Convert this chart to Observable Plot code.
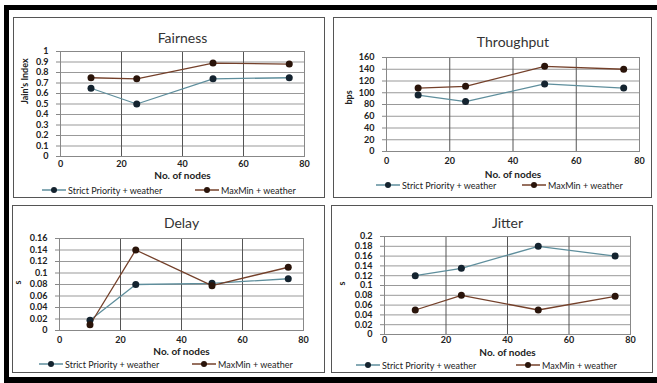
<!DOCTYPE html>
<html><head><meta charset="utf-8">
<script src="https://cdn.jsdelivr.net/npm/d3@7"></script>
<script src="https://cdn.jsdelivr.net/npm/@observablehq/plot@0.6"></script>
<style>
html,body{margin:0;padding:0;background:#fff;}
body{width:657px;height:383px;position:relative;overflow:hidden;font-family:Lato,"Liberation Sans",sans-serif;}
.frame{position:absolute;left:4px;top:5px;width:700px;height:378px;box-sizing:border-box;border-top:5px solid #000;border-left:5px solid #000;border-bottom:6px solid #000;}
.panel{position:absolute;box-sizing:border-box;border:1px solid #555;background:#fff;}
.plot{position:absolute;}
.legend{position:absolute;height:10px;font-size:9px;color:#222;white-space:nowrap;}
.legend .item{position:absolute;top:0;display:flex;align-items:center;height:10px;}
.legend svg{margin-right:2px;}
</style></head>
<body>
<div class="frame"></div>
<script>
const nodes = [10, 25, 50, 75];
const seriesNames = ["Strict Priority + weather", "MaxMin + weather"];
const xTicks = [0, 20, 40, 60, 80];

const fairnessStrict = [0.65, 0.50, 0.74, 0.75];
const fairnessMaxMin = [0.75, 0.74, 0.89, 0.88];
const fairnessTicks = [0, 0.1, 0.2, 0.3, 0.4, 0.5, 0.6, 0.7, 0.8, 0.9, 1];

const throughputStrict = [96, 85, 115, 108];
const throughputMaxMin = [108, 111, 145, 140];
const throughputTicks = [0, 20, 40, 60, 80, 100, 120, 140, 160];

const delayStrict = [0.018, 0.08, 0.082, 0.09];
const delayMaxMin = [0.01, 0.14, 0.078, 0.11];
const delayTicks = [0, 0.02, 0.04, 0.06, 0.08, 0.1, 0.12, 0.14, 0.16];

const jitterStrict = [0.12, 0.135, 0.18, 0.16];
const jitterMaxMin = [0.05, 0.08, 0.05, 0.078];
const jitterTicks = [0, 0.02, 0.04, 0.06, 0.08, 0.1, 0.12, 0.14, 0.16, 0.18, 0.2];

const lineColors = ["#5e8e9c", "#74402a"];
const markerColors = ["#14232f", "#2a140a"];

const fmt = d => String(+d.toFixed(3));

function panel(cfg) {
  const box = document.createElement("div");
  box.className = "panel";
  Object.assign(box.style, {left: cfg.box[0] + "px", top: cfg.box[1] + "px", width: cfg.box[2] + "px", height: cfg.box[3] + "px"});
  document.body.appendChild(box);

  const rows = (vals, s) => nodes.map((n, i) => ({x: n, y: vals[i], series: seriesNames[s]}));
  const a = rows(cfg.strict, 0), b = rows(cfg.maxmin, 1);
  const yMax = cfg.yTicks[cfg.yTicks.length - 1];
  const [mt, mr, mb, ml] = cfg.margins;

  const chart = Plot.plot({
    width: cfg.box[2], height: cfg.h,
    marginTop: mt, marginRight: mr, marginBottom: mb, marginLeft: ml,
    style: {fontFamily: "Lato, 'Liberation Sans', sans-serif", fontSize: "9px", fontWeight: "bold", color: "#222", background: "transparent", overflow: "visible"},
    x: {domain: [0, 80]},
    y: {domain: [0, yMax]},
    color: {domain: seriesNames, range: lineColors},
    marks: [
      Plot.gridY(cfg.yTicks, {stroke: "#999", strokeOpacity: 1, strokeWidth: 1}),
      Plot.gridX([20, 40, 60], {stroke: "#555", strokeOpacity: 1, strokeWidth: 1}),
      Plot.frame({stroke: "#888"}),
      Plot.axisY(cfg.yTicks, {tickFormat: fmt, tickSize: 4, tickPadding: 8, stroke: "#888", label: null}),
      Plot.axisX(xTicks, {tickFormat: fmt, tickSize: 0, tickPadding: cfg.xPad, label: null}),
      Plot.text([cfg.title], {text: d => d, frameAnchor: "top", dy: cfg.titleDy, fontSize: 14, fontWeight: "normal", fill: "#333"}),
      Plot.text(["No. of nodes"], {text: d => d, frameAnchor: "bottom", dy: cfg.xLabelDy, fontSize: 10, fontWeight: "bold", fill: "#222"}),
      Plot.text([cfg.yLabel], {text: d => d, frameAnchor: "left", dx: cfg.yLabelDx, rotate: -90, fontSize: 9, fontWeight: "bold", fill: "#222"}),
      Plot.line(a, {x: "x", y: "y", stroke: "series", strokeWidth: 1.3}),
      Plot.line(b, {x: "x", y: "y", stroke: "series", strokeWidth: 1.3}),
      Plot.dot(a, {x: "x", y: "y", r: 3.5, fill: markerColors[0]}),
      Plot.dot(b, {x: "x", y: "y", r: 3.5, fill: markerColors[1]})
    ]
  });
  chart.classList.add("plot");
  chart.style.left = cfg.box[0] + "px";
  chart.style.top = cfg.box[1] + "px";
  document.body.appendChild(chart);

  const leg = document.createElement("div");
  leg.className = "legend";
  leg.style.top = (cfg.legendY - 5) + "px";
  leg.style.left = "0px";
  seriesNames.forEach((name, i) => {
    const it = document.createElement("div");
    it.className = "item";
    it.style.left = cfg.legendX[i] + "px";
    it.innerHTML = `<svg width="24" height="8"><line x1="0" y1="4" x2="24" y2="4" stroke="${lineColors[i]}" stroke-width="1.5"/><circle cx="12" cy="4" r="3" fill="${markerColors[i]}"/></svg><span>${name}</span>`;
    leg.appendChild(it);
  });
  document.body.appendChild(leg);
}

panel({title: "Fairness", yLabel: "Jain's Index", strict: fairnessStrict, maxmin: fairnessMaxMin, yTicks: fairnessTicks,
  box: [13, 17, 312, 181], h: 170, margins: [34, 21, 31, 47], titleDy: -18, xPad: 4, xLabelDy: 22, yLabelDx: -35,
  legendY: 190, legendX: [42, 195]});
panel({title: "Throughput", yLabel: "bps", strict: throughputStrict, maxmin: throughputMaxMin, yTicks: throughputTicks,
  box: [333, 17, 319, 181], h: 170, margins: [40, 13, 36, 53], titleDy: -20, xPad: 6, xLabelDy: 26, yLabelDx: -37,
  legendY: 185, legendX: [376, 522]});
panel({title: "Delay", yLabel: "s", strict: delayStrict, maxmin: delayMaxMin, yTicks: delayTicks,
  box: [12, 205, 313, 168], h: 155, margins: [33, 22, 30, 47], titleDy: -20, xPad: 6, xLabelDy: 24, yLabelDx: -41,
  legendY: 364, legendX: [39, 192]});
panel({title: "Jitter", yLabel: "s", strict: jitterStrict, maxmin: jitterMaxMin, yTicks: jitterTicks,
  box: [331, 205, 322, 168], h: 155, margins: [31, 23, 26, 53], titleDy: -18, xPad: 2, xLabelDy: 21, yLabelDx: -42,
  legendY: 365, legendX: [356, 516]});
</script>
</body></html>
